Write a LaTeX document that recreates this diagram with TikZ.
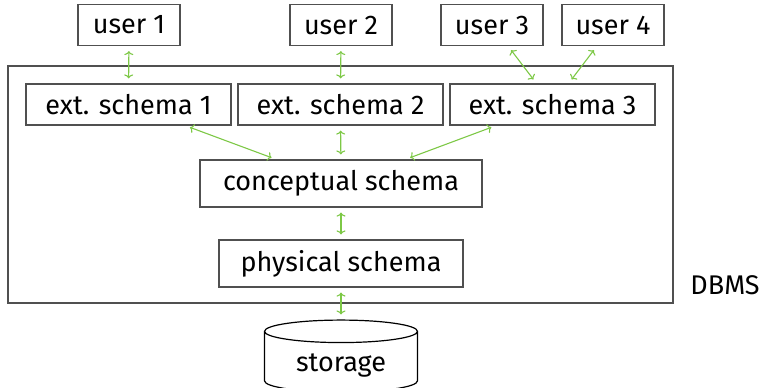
\documentclass[tikz,border=0pt]{standalone}
\usepackage{fontspec}
\setmainfont{Fira Sans}
\usetikzlibrary{shapes.geometric,arrows.meta}
\definecolor{linkgreen}{RGB}{125,200,70}
\definecolor{boxgray}{RGB}{80,80,80}

\begin{document}
\begin{tikzpicture}[x=1pt,y=-1pt,
		every node/.style={font=\fontsize{27}{32}\selectfont},
		box/.style={draw=boxgray,line width=1.2pt,minimum height=41pt,inner sep=0pt},
		link/.style={{To[length=4pt,width=9pt]}-{To[length=4pt,width=9pt]},linkgreen,line width=1.1pt,shorten <=5pt,shorten >=5pt}]
				\useasboundingbox (0,0) rectangle (768,388);
				\node[draw=boxgray,line width=1.2pt,minimum width=665pt,minimum height=237pt] (dbms) at (340.5,184.5) {};
				\node (dbmslabel) at (725,285) {DBMS};
				\node[box,minimum width=102pt] (u1) at (129,25) {user 1};
				\node[box,minimum width=102pt] (u2) at (341,25) {user 2};
				\node[box,minimum width=102pt] (u3) at (492,25) {user 3};
				\node[box,minimum width=102pt] (u4) at (613,25) {user 4};
				\node[box,minimum width=205pt] (e1) at (128.5,104.5) {ext. schema 1};
				\node[box,minimum width=205pt] (e2) at (340.5,104.5) {ext. schema 2};
				\node[box,minimum width=205pt] (e3) at (552.5,104.5) {ext. schema 3};
				\node[box,minimum width=282pt,minimum height=47pt] (c) at (341,183.5) {conceptual schema};
				\node[box,minimum width=244pt,minimum height=47pt] (p) at (341,263.5) {physical schema};
				\node[draw,line width=1.2pt,cylinder,shape border rotate=90,aspect=0.25,minimum width=153pt,minimum height=72pt,inner sep=0pt,text height=18pt,text depth=0pt] (s) at (341,362) {storage};
				\draw[link] (u1) to (e1);
				\draw[link] (u2) to (e2);
				\draw[link] (u3) to (e3);
				\draw[link] (u4) to (e3);
				\draw[link] (e1) to (c);
				\draw[link] (e2) to (c);
				\draw[link] (e3) to (c);
				\draw[link] (c) to (p);
				\draw[link] (p) to (s);
			\end{tikzpicture}
\end{document}
